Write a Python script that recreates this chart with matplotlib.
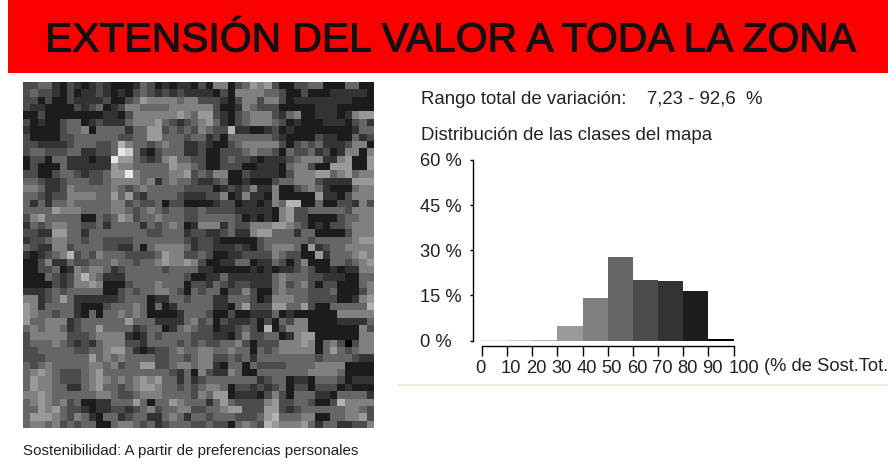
import numpy as np
import matplotlib
matplotlib.use('Agg')
import matplotlib.pyplot as plt
import matplotlib.patheffects as pe
from matplotlib.colors import ListedColormap
from matplotlib.lines import Line2D
from matplotlib.patches import Rectangle
from matplotlib.transforms import ScaledTranslation

plt.rcParams['font.family'] = ['Liberation Sans', 'DejaVu Sans']

W, H = 888, 462

title = 'EXTENSIÓN DEL VALOR A TODA LA ZONA'
caption = 'Sostenibilidad: A partir de preferencias personales'
rango = 'Rango total de variación:    7,23 - 92,6  %'
distrib = 'Distribución de las clases del mapa'

# class shares (% of the map, classes of 10)
class_edges = [0, 10, 20, 30, 40, 50, 60, 70, 80, 90]
class_share = [0.2, 0.2, 0.2, 4.7, 14.0, 27.7, 20.2, 19.7, 16.5, 0.4]
class_grey = ['#e6e6e6', '#cccccc', '#b3b3b3', '#999999', '#808080',
              '#666666', '#4c4c4c', '#333333', '#1c1c1c', '#000000']
y_ticks = [0, 15, 30, 45, 60]
y_labels = ['0 %', '15 %', '30 %', '45 %', '60 %']
x_ticks = [0, 10, 20, 30, 40, 50, 60, 70, 80, 90, 100]

# map cells, digit = 9 - class index (0 black ... 9 lightest)
map_rows = [
    "334421 321232 111243 121221 315513 465631 133441 114411",
    "343321 312232 121343 232322 221315 555443 113111 222221",
    "331311 322223 113465 555455 333213 553553 122222 222111",
    "322111 132341 235544 445555 553112 543331 111122 211111",
    "113111 111112 213555 555654 663213 455532 451122 212566",
    "312113 441232 224555 643234 564213 455543 121112 221342",
    "211113 445144 442446 634343 543372 211231 211111 111244",
    "311113 344444 433446 644434 423144 444432 111132 211423",
    "332222 344433 475443 454422 321134 555553 134342 223551",
    "344333 442233 498421 344422 311333 454431 433423 125515",
    "133144 222122 966432 356443 311343 321222 345552 256116",
    "131114 222222 655444 446554 311333 112221 455311 666116",
    "331134 432334 669544 445563 435511 322221 355566 456455",
    "443223 444334 555545 245443 223411 211134 455532 222666",
    "554223 544444 543454 444433 331232 352251 134542 111455",
    "443233 555544 646324 444322 233512 522151 111162 213555",
    "424244 544444 553433 413311 112331 221254 771141 133253",
    "444465 554444 554345 434433 433332 222215 633444 443555",
    "356444 441143 465344 544433 444443 121215 633111 134455",
    "243455 443342 444424 345412 555243 355566 543121 334555",
    "332266 442444 444443 344423 322342 256644 424411 113555",
    "233455 443443 333444 444432 332111 113444 444344 444566",
    "432255 344443 322414 555542 332223 213455 541623 445555",
    "212345 734354 443333 465533 431122 333354 331162 444565",
    "113522 433444 544344 565565 311224 412243 135111 443456",
    "113341 254554 234444 434444 221111 121212 234311 212255",
    "111432 357542 224444 444431 122422 222245 444332 221144",
    "111132 355651 113444 544413 324323 322245 345313 311145",
    "222343 444441 134344 554314 344133 531145 444333 411135",
    "552346 422222 234441 224434 442244 431255 544333 311256",
    "652444 421113 444541 412444 442214 633366 446311 444447",
    "654434 421414 454541 111244 431131 122241 211111 155555",
    "644555 234444 446444 222245 341322 231314 355111 122224",
    "454554 234464 444234 412454 331223 431713 555111 111153",
    "355555 333455 552124 344443 332213 533441 256611 111155",
    "344454 323245 553324 444343 433445 313335 556514 530355",
    "334444 433445 664212 334544 554454 414345 555514 643455",
    "333444 444645 454444 334434 553343 424444 444434 444322",
    "434544 444554 534466 334554 552144 143333 444455 551111",
    "456543 334564 444444 443241 532254 114444 444555 541111",
    "465543 334565 454565 644242 344444 442344 122144 431222",
    "465544 224564 434566 544343 455413 323234 133133 312111",
    "556544 444455 433455 544443 546612 221353 144422 144442",
    "456545 341122 444641 446544 424643 333563 344311 375555",
    "446564 332122 332345 344553 344566 333663 234444 445543",
    "466654 354214 423442 245424 434443 334674 445511 445563",
    "455453 434411 455434 234443 343314 543765 556424 422335",
]

map_cells = np.array([[int(c) for c in r.replace(' ', '')] for r in map_rows])

fig = plt.figure(figsize=(W / 100, H / 100), dpi=100, facecolor='white')


def px_axes(x0, y0, x1, y1):
    # axes box from pixel coordinates, origin at the top left of the picture
    return fig.add_axes([x0 / W, 1 - y1 / H, (x1 - x0) / W, (y1 - y0) / H])


# title bar
fig.patches.append(Rectangle((8 / W, 1 - 73 / H), 1 - 8 / W, 73 / H, transform=fig.transFigure,
                             facecolor='#fb0000', edgecolor='none'))
fig.text(451 / W, 1 - 40.5 / H, title, ha='center', va='center', fontsize=29.4, color='#111111',
         path_effects=[pe.withStroke(linewidth=0.7, foreground='#111111')])

# map
ax_map = px_axes(22.5, 82, 372.8, 428)
cmap = ListedColormap(class_grey[::-1])
ax_map.imshow(map_cells, cmap=cmap, vmin=-0.5, vmax=9.5, aspect='auto', interpolation='nearest')
ax_map.axis('off')
fig.text(23 / W, 1 - 451.5 / H, caption, ha='left', va='center', fontsize=10.9, color='#222222')

# histogram texts
fig.text(421 / W, 1 - 99.5 / H, rango, ha='left', va='center', fontsize=13.4, color='#222222')
fig.text(421 / W, 1 - 136 / H, distrib, ha='left', va='center', fontsize=13.4, color='#222222')

# histogram
ax = px_axes(482, 160, 733.5, 340.5)
ax.bar(class_edges, class_share, width=10, align='edge', color=class_grey, linewidth=0)
ax.set_xlim(0, 100)
ax.set_ylim(0, 60)
ax.patch.set_alpha(0)
ax.spines['top'].set_visible(False)
ax.spines['right'].set_visible(False)
ax.spines['left'].set_position(('outward', 6.5))
ax.spines['bottom'].set_position(('outward', 3.6))
ax.spines['left'].set_linewidth(1.0)
ax.spines['bottom'].set_linewidth(1.0)
ax.set_xticks(x_ticks)
ax.set_xticklabels([str(t) for t in x_ticks], fontsize=13.2, color='#222222')
ax.set_yticks(y_ticks)
ax.set_yticklabels(y_labels, fontsize=13.2, color='#222222')
ax.tick_params(axis='x', length=7, width=1.0, pad=3.5)
ax.tick_params(axis='y', length=2.5, width=1.0, pad=36)
for lab in ax.get_yticklabels():
    lab.set_ha('left')
# the labels in the source sit a little right of their ticks, 0 and 100 most of all
for t, lab in zip(x_ticks, ax.get_xticklabels()):
    shift = -2 if t == 0 else (10 if t == 100 else 4)
    lab.set_transform(lab.get_transform() + ScaledTranslation(shift / 100, 0, fig.dpi_scale_trans))
ax.text(112, -8.8, '(% de Sost.Tot.', ha='left', va='center', fontsize=13.2, color='#222222',
        clip_on=False)

# pale rule under the histogram
fig.add_artist(Line2D([398 / W, 1], [1 - 384.5 / H, 1 - 384.5 / H], color='#ecead8', linewidth=1.3))

fig.savefig('out.png', dpi=100)
